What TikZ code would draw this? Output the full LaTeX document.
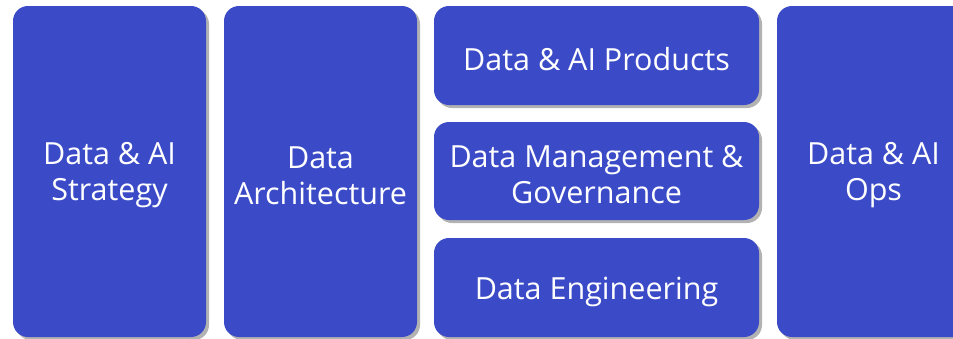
\documentclass[tikz,border=0pt]{standalone}
\usepackage{fontspec}
\setmainfont{Open Sans}
\usetikzlibrary{shadows}
\definecolor{tileblue}{HTML}{3B4BC8}
\tikzset{
	tile/.style={rounded corners=15pt,fill=tileblue,inner sep=0pt,
		drop shadow={shadow xshift=3pt,shadow yshift=-3pt,opacity=0.3,fill=black}},
	tiletext/.style={text=white,align=center,inner sep=0pt,yshift=-4pt,
		font=\fontsize{30.5}{36}\selectfont},
}
\begin{document}
\begin{tikzpicture}[x=1pt,y=1pt]
	\useasboundingbox (0,0) rectangle (953,-338);
	\clip (0,0) rectangle (953,-338);
	% the four columns
	\node[tile,minimum width=193pt,minimum height=331pt,label={[tiletext]center:{Data \& AI\\Strategy}}] (strategy) at (109.5,-171.5) {};
	\node[tile,minimum width=193pt,minimum height=331pt,label={[tiletext]center:{Data\\Architecture}}] (architecture) at (320.5,-171.5) {};
	\node[tile,minimum width=193pt,minimum height=331pt,label={[tiletext]center:{Data \& AI\\Ops}}] (ops) at (873.5,-171.5) {};
	% middle stack
	\node[tile,minimum width=325pt,minimum height=99pt,label={[tiletext]center:{Data \& AI Products}}] (products) at (596.5,-55.5) {};
	\node[tile,minimum width=325pt,minimum height=98pt,label={[tiletext]center:{Data Management \&\\Governance}}] (governance) at (596.5,-171) {};
	\node[tile,minimum width=325pt,minimum height=99pt,label={[tiletext]center:{Data Engineering}}] (engineering) at (596.5,-287.5) {};
\end{tikzpicture}
\end{document}
